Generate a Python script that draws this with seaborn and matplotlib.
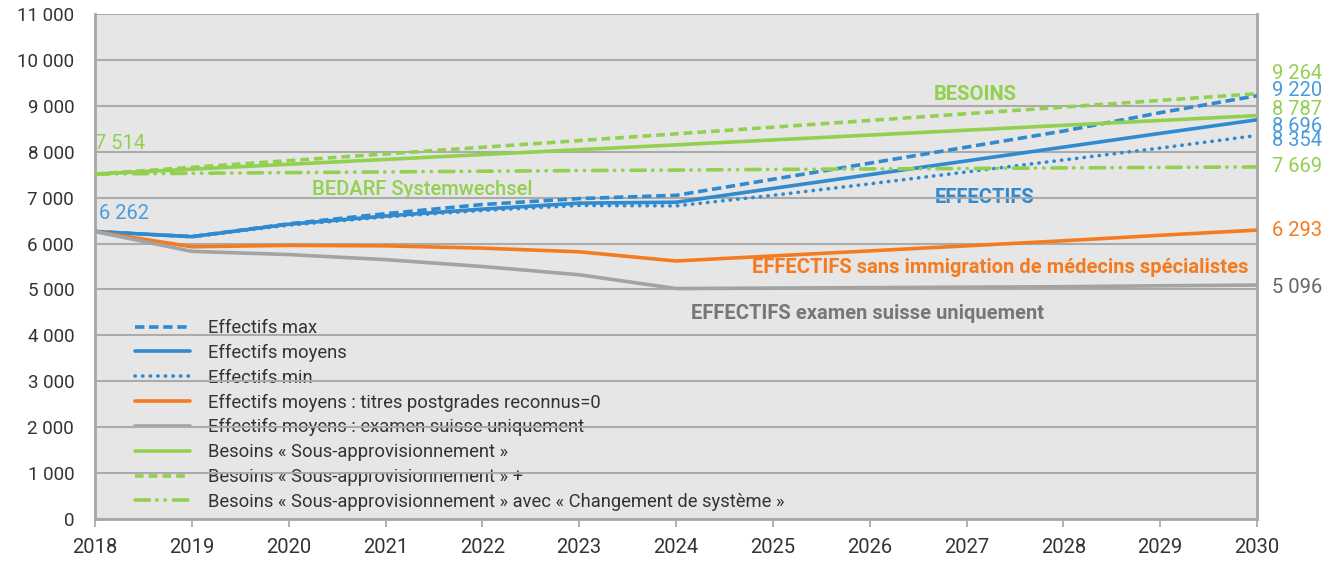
import matplotlib
matplotlib.use("Agg")
import matplotlib.pyplot as plt
import seaborn as sns
import pandas as pd
from matplotlib.ticker import FuncFormatter, MultipleLocator

years = list(range(2018, 2031))

eff_max = [6262, 6150, 6430, 6650, 6850, 6980, 7050, 7400, 7750, 8100, 8450, 8850, 9220]
eff_moy = [6262, 6150, 6420, 6600, 6750, 6880, 6900, 7200, 7500, 7800, 8100, 8400, 8696]
eff_min = [6262, 6150, 6400, 6580, 6720, 6830, 6820, 7050, 7300, 7560, 7820, 8080, 8354]
eff_titres0 = [6262, 5930, 5960, 5950, 5900, 5820, 5620, 5730, 5840, 5950, 6060, 6180, 6293]
eff_suisse = [6262, 5830, 5760, 5650, 5500, 5320, 5020, 5030, 5040, 5050, 5060, 5080, 5096]
bes_sous = [7514, 7620, 7726, 7832, 7938, 8044, 8150, 8257, 8363, 8469, 8575, 8681, 8787]
bes_plus = [7514, 7660, 7806, 7951, 8097, 8243, 8389, 8535, 8681, 8827, 8972, 9118, 9264]
bes_sys = [7514, 7530, 7545, 7560, 7575, 7590, 7600, 7615, 7625, 7635, 7648, 7658, 7669]

labels = [
    "Effectifs max",
    "Effectifs moyens",
    "Effectifs min",
    "Effectifs moyens : titres postgrades reconnus=0",
    "Effectifs moyens : examen suisse uniquement",
    "Besoins « Sous-approvisionnement »",
    "Besoins « Sous-approvisionnement » +",
    "Besoins « Sous-approvisionnement » avec « Changement de système »",
]

BLUE = "#2F8AD0"
BLUE_T = "#4A9BDB"
ORANGE = "#F47B20"
GRAY = "#A3A3A3"
GREEN = "#92D050"

sns.set_theme(style="white")
plt.rcParams["font.family"] = ["Roboto", "DejaVu Sans"]

fig = plt.figure(figsize=(13.37, 5.61), dpi=100)
ax = fig.add_axes([95 / 1337, 1 - 519 / 561, (1257 - 95) / 1337, (519 - 14) / 561])
ax.set_facecolor("#E6E6E6")

series = [
    (eff_max, BLUE, dict(linestyle=(0, (2.6, 1.3)))),
    (eff_moy, BLUE, dict(linestyle="-")),
    (eff_min, BLUE, dict(linestyle=(0, (0.1, 2.0)), dash_capstyle="round")),
    (eff_titres0, ORANGE, dict(linestyle="-")),
    (eff_suisse, GRAY, dict(linestyle="-")),
    (bes_sous, GREEN, dict(linestyle="-")),
    (bes_plus, GREEN, dict(linestyle=(0, (2.4, 1.4)))),
    (bes_sys, GREEN, dict(linestyle=(0, (4.0, 2.0, 0.1, 2.2, 0.1, 2.2)), dash_capstyle="round")),
]

for (vals, col, kw), lab in zip(series, labels):
    df = pd.DataFrame({"year": years, "value": vals})
    sns.lineplot(data=df, x="year", y="value", ax=ax, color=col, linewidth=2.6,
                 label=lab, zorder=3, **kw)

ax.set_xlim(2018, 2030)
ax.set_ylim(0, 11000)
ax.xaxis.set_major_locator(MultipleLocator(1))
ax.yaxis.set_major_locator(MultipleLocator(1000))
ax.yaxis.set_major_formatter(FuncFormatter(lambda v, p: f"{int(v):,}".replace(",", " ")))
ax.set_xlabel("")
ax.set_ylabel("")
ax.grid(axis="y", color="#ABABAB", linewidth=1.5)
ax.grid(axis="x", visible=False)
ax.set_axisbelow(False)
ax.tick_params(axis="y", labelsize=13.5, colors="#333333", left=False, length=0, pad=15)
ax.tick_params(axis="x", labelsize=14.5, labelcolor="#333333", bottom=True, length=6,
               width=1.2, color="#A6A6A6", pad=8)
for s in ["left", "right", "bottom"]:
    ax.spines[s].set_color("#A6A6A6")
    ax.spines[s].set_linewidth(2)
ax.spines["top"].set_visible(False)

leg = ax.legend(loc="upper left", bbox_to_anchor=(0.0344, 0.396), frameon=False,
                fontsize=13.2, handlelength=3.0, handletextpad=1.0, labelspacing=0.37,
                borderpad=0, borderaxespad=0)
leg.set_zorder(2)
for t in leg.get_texts():
    t.set_color("#333333")

# in-plot annotations
ax.text(2027.09, 9237, "BESOINS", color=GREEN, fontsize=14.5, fontweight="bold",
        ha="center", va="center", zorder=2)
ax.text(2021.38, 7168, "BEDARF Systemwechsel", color=GREEN, fontsize=14.5, fontweight="medium",
        ha="center", va="center", zorder=2)
ax.text(2027.19, 6993, "EFFECTIFS", color=BLUE, fontsize=14.5, fontweight="bold",
        ha="center", va="center", zorder=2)
ax.text(2027.35, 5468, "EFFECTIFS sans immigration de médecins spécialistes", color=ORANGE,
        fontsize=14.5, fontweight="bold", ha="center", va="center", zorder=2)
ax.text(2025.98, 4466, "EFFECTIFS examen suisse uniquement", color="#777777",
        fontsize=14.5, fontweight="bold", ha="center", va="center", zorder=2)
ax.text(2018.0, 8170, "7 514", color=GREEN, fontsize=14.5,
        ha="left", va="center", zorder=2)
ax.text(2018.04, 6645, "6 262", color=BLUE_T, fontsize=14.5,
        ha="left", va="center", zorder=2)

right_vals = [9264, 9220, 8787, 8696, 8354, 7669, 6293, 5096]
right_y = [9695, 9325, 8911, 8540, 8235, 7669, 6275, 5033]
right_cols = [GREEN, BLUE_T, GREEN, BLUE_T, BLUE_T, GREEN, ORANGE, "#666666"]
for v, yy, c in zip(right_vals, right_y, right_cols):
    ax.text(2030.15, yy, f"{v:,}".replace(",", " "), color=c, fontsize=14.5,
            ha="left", va="center", clip_on=False)

fig.savefig("out.png", dpi=100)
